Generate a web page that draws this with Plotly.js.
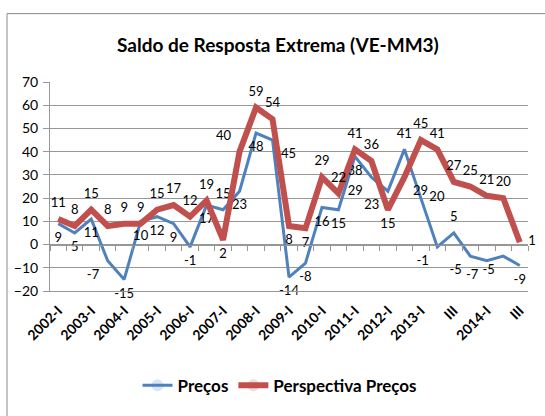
<!DOCTYPE html>
<html>
<head>
<meta charset="utf-8">
<script src="https://cdn.plot.ly/plotly-3.0.1.min.js"></script>
<style>html,body{margin:0;padding:0;background:#fff;}#chart{width:545px;height:416px;}</style>
</head>
<body>
<div id="chart"></div>
<script>
const categories = ['2002-I','2002-II','2003-I','2003-II','2004-I','2004-II','2005-I','2005-II','2006-I','2006-II','2007-I','2007-II','2008-I','2008-II','2009-I','2009-II','2010-I','2010-II','2011-I','2011-II','2012-I','2012-II','2013-I','2013-II','2013-III','2013-IV','2014-I','2014-II','2014-III'];
const tickLabels = ['2002-I','II','2003-I','II','2004-I','II','2005-I','II','2006-I','II','2007-I','II','2008-I','II','2009-I','II','2010-I','II','2011-I','II','2012-I','II','2013-I','II','III','IV','2014-I','II','III'];
const precos = [9, 5, 11, -7, -15, 10, 12, 9, -1, 17, 15, 23, 48, 45, -14, -8, 16, 15, 38, 29, 23, 41, 20, -1, 5, -5, -7, -5, -9];
const perspectiva = [11, 8, 15, 8, 9, 9, 15, 17, 12, 19, 2, 40, 59, 54, 8, 7, 29, 22, 41, 36, 15, 29, 45, 41, 27, 25, 21, 20, 1];

// label placement (style only)
const bluePos = precos.map(() => 'bottom center');
bluePos[3] = 'bottom left'; bluePos[10] = 'top center'; bluePos[13] = 'bottom right';
bluePos[19] = 'bottom left'; bluePos[20] = 'bottom left'; bluePos[21] = 'top center';
bluePos[22] = 'middle right'; bluePos[23] = 'bottom left';
bluePos[24] = 'top center'; bluePos[25] = 'bottom left'; bluePos[26] = 'bottom left'; bluePos[27] = 'bottom left';
const redPos = perspectiva.map(() => 'top center');
redPos[10] = 'bottom center'; redPos[11] = 'top left'; redPos[14] = 'bottom center';
redPos[15] = 'bottom center'; redPos[20] = 'bottom center'; redPos[21] = 'bottom right';
redPos[28] = 'middle right';

const shownVals = categories.filter((c, i) => i % 2 === 0);
const shownText = tickLabels.filter((c, i) => i % 2 === 0);
const idx = categories.map((c, i) => i);
const boundaries = categories.concat(['end']).map((c, i) => i - 0.5);

const FONT = 'Lato, "Open Sans", sans-serif';
const GRID = '#979797';

const traces = [
  {
    x: categories, y: precos, name: 'Preços', type: 'scatter', mode: 'lines+markers+text',
    line: {color: '#4F81BD', width: 3},
    marker: {size: 12, opacity: 0, color: '#4F81BD'},
    text: precos.map(String), textposition: bluePos,
    textfont: {family: FONT, size: 13, color: '#000'},
    cliponaxis: false, hoverinfo: 'x+y'
  },
  {
    x: categories, y: perspectiva, name: 'Perspectiva Preços', type: 'scatter', mode: 'lines+markers+text',
    line: {color: '#C0504D', width: 6},
    marker: {size: 12, opacity: 0, color: '#C0504D'},
    text: perspectiva.map(String), textposition: redPos,
    textfont: {family: FONT, size: 13, color: '#000'},
    cliponaxis: false, hoverinfo: 'x+y'
  },
  {
    x: idx, y: perspectiva, xaxis: 'x2', mode: 'none', type: 'scatter',
    showlegend: false, hoverinfo: 'skip'
  }
];

const layout = {
  width: 545, height: 416,
  margin: {l: 50, r: 17, t: 82, b: 120},
  paper_bgcolor: '#fff', plot_bgcolor: '#fff',
  font: {family: FONT, color: '#000'},
  title: {
    text: 'Saldo de Resposta Extrema (VE-MM3)',
    font: {family: FONT, size: 19, color: '#000', weight: 'bold'},
    xref: 'container', x: 0.51, xanchor: 'center',
    yref: 'container', y: 1 - 45/416, yanchor: 'middle'
  },
  xaxis: {
    type: 'category', categoryorder: 'array', categoryarray: categories,
    range: [-0.5, categories.length - 0.5],
    tickmode: 'array', tickvals: shownVals, ticktext: shownText,
    tickangle: -45, tickfont: {family: FONT, size: 14, color: '#000', weight: 'bold'},
    ticklabelstandoff: 5,
    ticks: '', showgrid: false, zeroline: false,
    showline: true, linecolor: GRID, linewidth: 1
  },
  xaxis2: {
    overlaying: 'x', anchor: 'free', position: 20/90,
    range: [-0.5, categories.length - 0.5],
    tickmode: 'array', tickvals: boundaries, showticklabels: false,
    ticks: 'outside', ticklen: 5, tickcolor: GRID, tickwidth: 1,
    showgrid: false, zeroline: false, showline: true, linecolor: GRID, linewidth: 1
  },
  yaxis: {
    range: [-20, 70], dtick: 10, tick0: 0,
    ticks: 'outside', ticklen: 6, tickcolor: GRID,
    tickfont: {family: FONT, size: 14, color: '#000'},
    ticklabelstandoff: 2,
    showline: true, linecolor: GRID, linewidth: 1,
    showgrid: true, gridcolor: GRID, gridwidth: 1,
    zeroline: true, zerolinecolor: GRID, zerolinewidth: 1
  },
  showlegend: true,
  legend: {
    orientation: 'h', x: (280 - 50) / 478, xanchor: 'center',
    y: (296 - 393) / 214, yanchor: 'middle',
    font: {family: FONT, size: 17, color: '#000', weight: 'bold'},
    itemwidth: 30,
    bgcolor: 'rgba(0,0,0,0)'
  },
  shapes: [
    {type: 'rect', xref: 'paper', yref: 'paper',
     x0: (7 - 50) / 478, x1: (560 - 50) / 478,
     y0: (296 - 440) / 214, y1: (296 - 12) / 214,
     line: {color: '#8a8a8a', width: 1}, fillcolor: 'rgba(0,0,0,0)', layer: 'below'}
  ]
};

Plotly.newPlot('chart', traces, layout, {staticPlot: true, displayModeBar: false});
</script>
</body>
</html>
